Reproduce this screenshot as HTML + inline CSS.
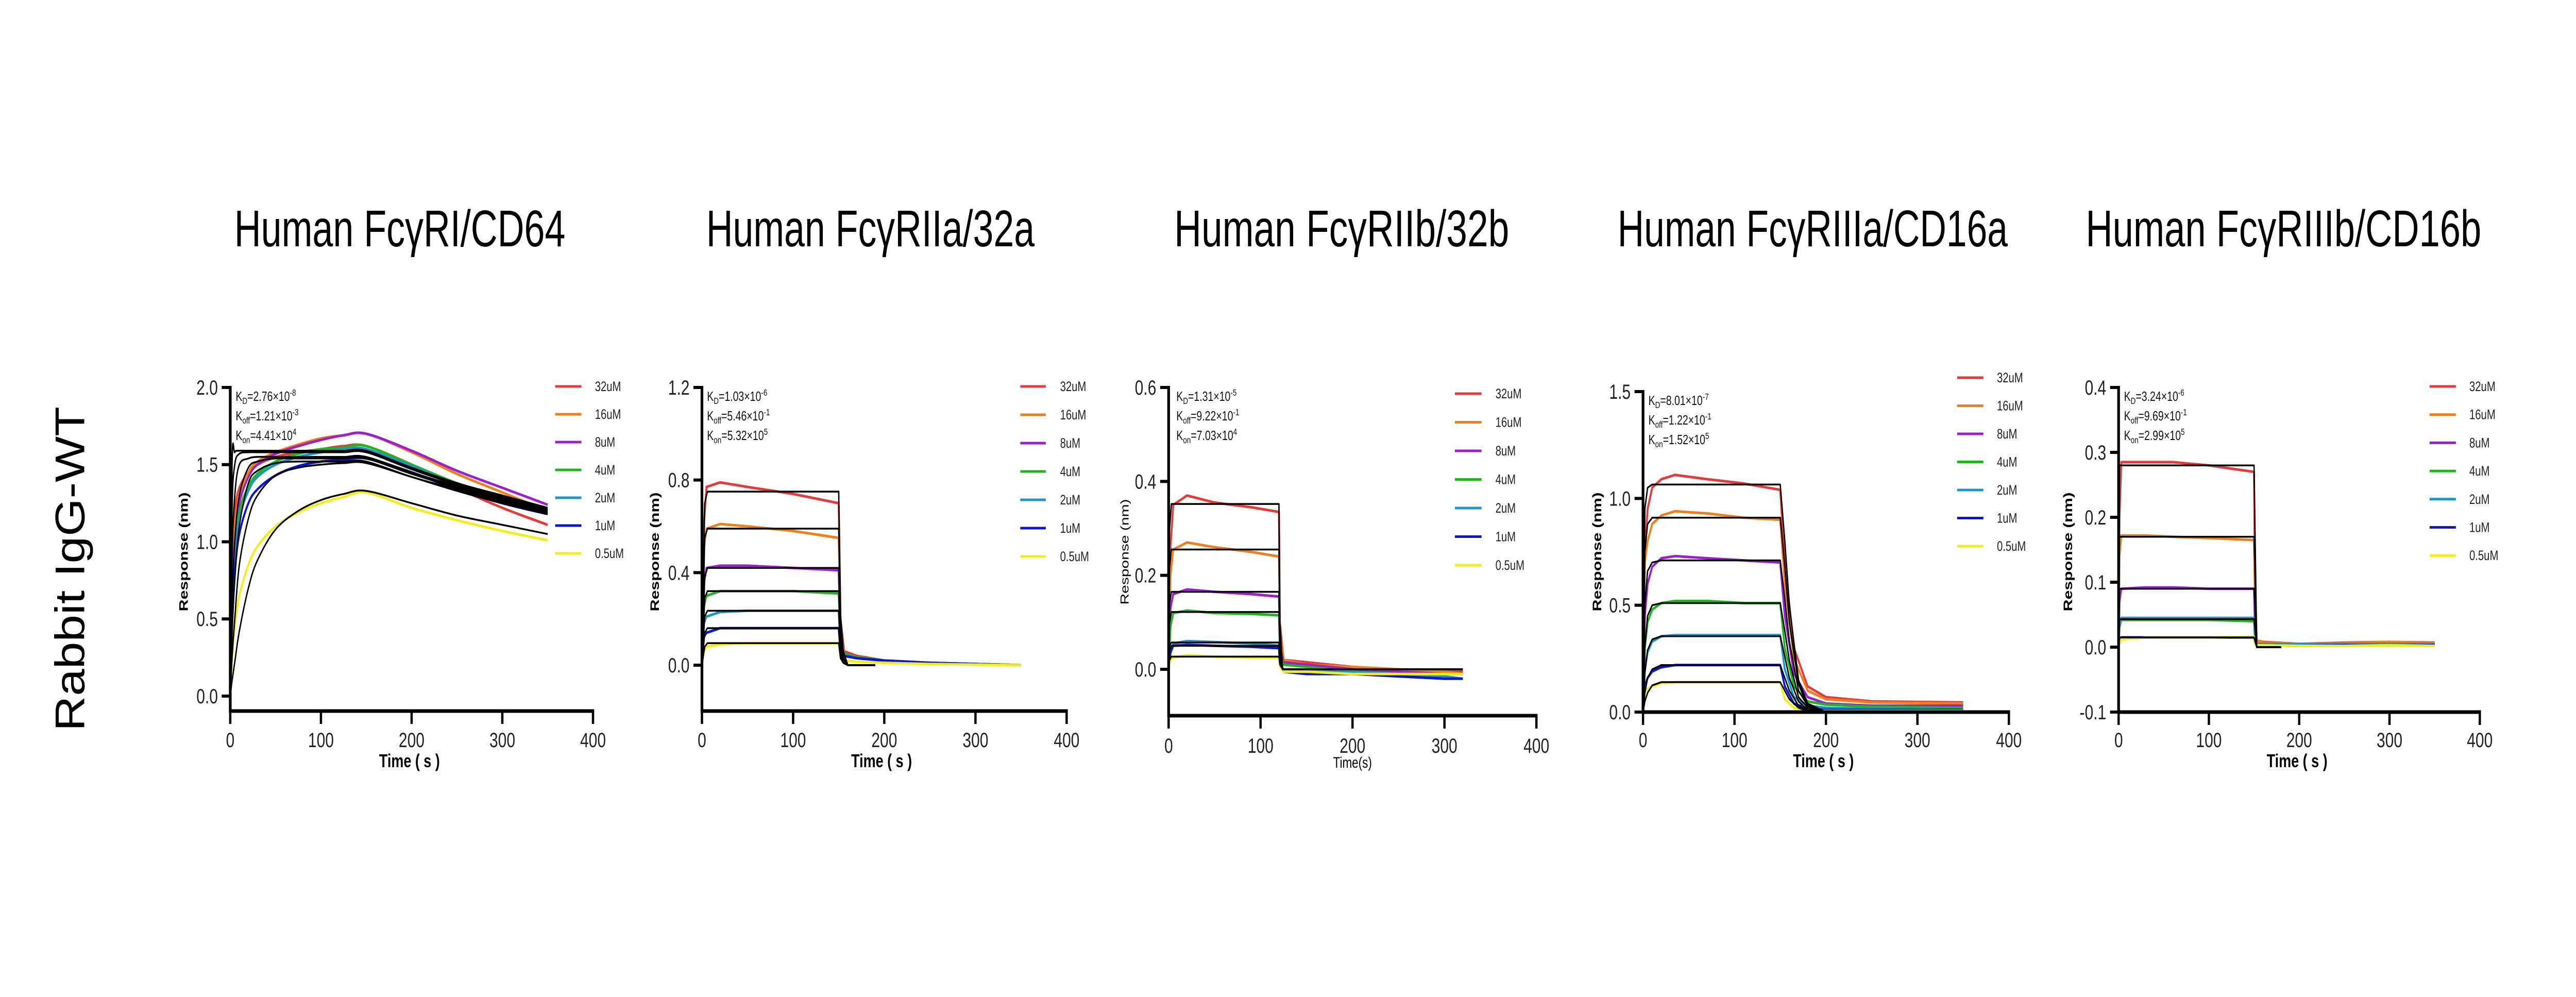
<!DOCTYPE html>
<html><head><meta charset="utf-8">
<style>
html,body{margin:0;padding:0;background:#fff;width:100%;height:100%;overflow:hidden;}
svg{display:block;width:100vw;height:100vh;}
.t{font-family:"Liberation Sans",sans-serif;}
.n{font-family:"Liberation Sans Narrow","Liberation Sans",sans-serif;}
</style></head>
<body>
<svg id="chart" viewBox="0 0 6668 1935" preserveAspectRatio="none" xmlns="http://www.w3.org/2000/svg">
<rect width="6668" height="1935" fill="#fff"/>
<text class="t" x="0" y="0" font-size="108" transform="translate(218,1104) rotate(-90)" text-anchor="middle" textLength="630" lengthAdjust="spacingAndGlyphs">Rabbit IgG-WT</text>
</svg>
<script>
// ---------- data ----------
const seriesNames = ["32uM","16uM","8uM","4uM","2uM","1uM","0.5uM"];
const seriesColors = ["#e8393a","#f07f1a","#9b1fd0","#1fb51f","#1a96c8","#0a14d4","#f2ee1a"];
const titles = ["Human FcγRI/CD64","Human FcγRIIa/32a","Human FcγRIIb/32b","Human FcγRIIIa/CD16a","Human FcγRIIIb/CD16b"];
const kineticsText = [
 ["2.76×10","-8","1.21×10","-3","4.41×10","4"],
 ["1.03×10","-6","5.46×10","-1","5.32×10","5"],
 ["1.31×10","-5","9.22×10","-1","7.03×10","4"],
 ["8.01×10","-7","1.22×10","-1","1.52×10","5"],
 ["3.24×10","-6","9.69×10","-1","2.99×10","5"]];
const xTicks = [0,100,200,300,400];
const yTicks1 = [0,0.5,1.0,1.5,2.0];
const yTicks2 = [0,0.4,0.8,1.2];
const yTicks3 = [0,0.2,0.4,0.6];
const yTicks4 = [0,0.5,1.0,1.5];
const yTicks5 = [-0.1,0,0.1,0.2,0.3,0.4];
const yTickLabels1 = ["0.0","0.5","1.0","1.5","2.0"];
const yTickLabels2 = ["0.0","0.4","0.8","1.2"];
const yTickLabels3 = ["0.0","0.2","0.4","0.6"];
const yTickLabels4 = ["0.0","0.5","1.0","1.5"];
const yTickLabels5 = ["-0.1","0.0","0.1","0.2","0.3","0.4"];

// Panel 1
const p1Times = [0,2,5,10,20,30,50,75,100,125,150,200,250,300,350];
const p1Data = [
 [0,0.9,1.2,1.35,1.45,1.5,1.55,1.58,1.60,1.62,1.62,1.50,1.35,1.22,1.11],
 [0,0.8,1.1,1.3,1.45,1.52,1.58,1.63,1.67,1.69,1.70,1.58,1.44,1.32,1.20],
 [0,0.7,1.0,1.25,1.42,1.5,1.57,1.62,1.66,1.69,1.70,1.59,1.46,1.35,1.24],
 [0,0.6,0.95,1.2,1.36,1.44,1.52,1.57,1.60,1.61,1.62,1.50,1.38,1.29,1.20],
 [0,0.6,0.9,1.15,1.33,1.42,1.50,1.55,1.58,1.60,1.60,1.49,1.37,1.28,1.21],
 [0,0.5,0.8,1.05,1.25,1.34,1.43,1.49,1.52,1.53,1.54,1.45,1.34,1.25,1.18],
 [0,0.25,0.45,0.65,0.85,0.97,1.10,1.19,1.25,1.29,1.32,1.22,1.14,1.07,1.01]];
const p1FitTimes = p1Times;
const p1Fit = [
 [0,1.5,1.58,1.59,1.59,1.59,1.59,1.59,1.59,1.59,1.59,1.48,1.38,1.30,1.22],
 [0,1.2,1.5,1.57,1.58,1.58,1.58,1.58,1.58,1.58,1.58,1.47,1.37,1.29,1.22],
 [0,0.9,1.3,1.5,1.54,1.55,1.55,1.55,1.55,1.55,1.55,1.45,1.36,1.28,1.21],
 [0,0.6,1.0,1.3,1.48,1.52,1.54,1.54,1.54,1.54,1.54,1.44,1.35,1.27,1.20],
 [0,0.4,0.75,1.1,1.38,1.46,1.51,1.52,1.52,1.52,1.52,1.42,1.34,1.26,1.19],
 [0,0.25,0.5,0.85,1.15,1.3,1.43,1.48,1.50,1.51,1.51,1.42,1.33,1.25,1.18],
 [0,0.1,0.22,0.42,0.70,0.88,1.08,1.20,1.27,1.31,1.33,1.25,1.17,1.11,1.05]];

// Panel 2
const p2Times = [0,2,5,20,50,100,150,152,156,170,200,250,350];
const p2Data = [
 [0,0.60,0.77,0.79,0.77,0.74,0.70,0.20,0.06,0.04,0.02,0.01,0.00],
 [0,0.50,0.59,0.61,0.60,0.58,0.55,0.15,0.05,0.035,0.02,0.01,0.00],
 [0,0.35,0.42,0.43,0.43,0.42,0.41,0.10,0.05,0.035,0.02,0.01,0.00],
 [0,0.25,0.30,0.32,0.32,0.32,0.31,0.08,0.05,0.035,0.02,0.01,0.00],
 [0,0.18,0.21,0.23,0.235,0.235,0.235,0.06,0.045,0.03,0.02,0.01,0.00],
 [0,0.12,0.14,0.16,0.16,0.16,0.16,0.05,0.04,0.03,0.02,0.01,0.00],
 [0,0.06,0.08,0.09,0.095,0.095,0.095,0.03,0.02,0.015,0.01,0.005,0.00]];
const p2FitTimes = [0,3,6,150,152,155,160,190];
const p2Fit = [
 [0,0.70,0.75,0.75,0.22,0.06,0.0,0.0],
 [0,0.55,0.59,0.59,0.18,0.05,0.0,0.0],
 [0,0.38,0.42,0.42,0.13,0.03,0.0,0.0],
 [0,0.29,0.32,0.32,0.10,0.03,0.0,0.0],
 [0,0.21,0.235,0.235,0.07,0.02,0.0,0.0],
 [0,0.14,0.16,0.16,0.05,0.01,0.0,0.0],
 [0,0.08,0.095,0.095,0.03,0.01,0.0,0.0]];

// Panel 3
const p3Times = [0,2,5,20,50,90,120,121,125,150,200,250,300,320];
const p3Data = [
 [0,0.26,0.35,0.37,0.355,0.345,0.335,0.10,0.02,0.015,0.005,0.00,-0.005,-0.005],
 [0,0.20,0.255,0.27,0.26,0.25,0.24,0.08,0.02,0.01,0.005,0.0,-0.005,-0.01],
 [0,0.13,0.16,0.17,0.165,0.16,0.155,0.05,0.015,0.01,0.0,-0.005,-0.01,-0.01],
 [0,0.09,0.12,0.125,0.12,0.118,0.115,0.04,0.01,0.005,-0.005,-0.01,-0.01,-0.01],
 [0,0.04,0.055,0.06,0.058,0.055,0.05,0.01,0.0,-0.005,-0.005,-0.01,-0.015,-0.02],
 [0,0.035,0.05,0.052,0.05,0.048,0.045,0.01,-0.005,-0.01,-0.01,-0.015,-0.02,-0.02],
 [0,0.02,0.025,0.03,0.027,0.025,0.025,0.005,-0.005,-0.005,-0.01,-0.01,-0.01,-0.01]];
const p3FitTimes = [0,1,3,120,121,124,320];
const p3Fit = [
 [0,0.30,0.352,0.352,0.10,0.0,0.0],
 [0,0.22,0.255,0.255,0.08,0.0,0.0],
 [0,0.14,0.165,0.165,0.05,0.0,0.0],
 [0,0.10,0.122,0.122,0.04,0.0,0.0],
 [0,0.05,0.057,0.057,0.02,0.0,0.0],
 [0,0.04,0.05,0.05,0.015,0.0,0.0],
 [0,0.02,0.027,0.027,0.01,0.0,0.0]];

// Panel 4
const p4Times = [0,2,5,10,20,35,70,110,150,155,165,180,200,250,350];
const p4Data = [
 [0,0.75,0.95,1.05,1.09,1.11,1.09,1.07,1.04,0.7,0.3,0.12,0.07,0.05,0.045],
 [0,0.7,0.80,0.88,0.92,0.94,0.93,0.91,0.90,0.6,0.25,0.10,0.06,0.045,0.04],
 [0,0.45,0.60,0.68,0.72,0.73,0.72,0.71,0.70,0.45,0.18,0.07,0.04,0.03,0.03],
 [0,0.3,0.42,0.48,0.51,0.52,0.52,0.51,0.51,0.30,0.12,0.05,0.035,0.025,0.02],
 [0,0.2,0.28,0.33,0.355,0.36,0.36,0.36,0.36,0.20,0.07,0.03,0.02,0.015,0.01],
 [0,0.12,0.16,0.19,0.21,0.22,0.22,0.22,0.22,0.12,0.04,0.015,0.01,0.01,0.01],
 [0,0.09,0.11,0.12,0.135,0.14,0.14,0.14,0.14,0.06,0.02,0.01,0.005,0.005,0.005]];
const p4FitTimes = [0,2,5,10,20,150,155,160,170,180,200];
const p4Fit = [
 [0,0.95,1.05,1.065,1.065,1.065,0.8,0.5,0.15,0.04,0.0],
 [0,0.75,0.88,0.91,0.91,0.91,0.68,0.42,0.13,0.03,0.0],
 [0,0.50,0.66,0.70,0.71,0.71,0.53,0.33,0.10,0.03,0.0],
 [0,0.30,0.45,0.50,0.51,0.51,0.38,0.24,0.07,0.02,0.0],
 [0,0.18,0.29,0.34,0.355,0.355,0.26,0.16,0.05,0.01,0.0],
 [0,0.09,0.16,0.20,0.22,0.22,0.16,0.10,0.03,0.01,0.0],
 [0,0.05,0.09,0.125,0.14,0.14,0.10,0.06,0.02,0.005,0.0]];

// Panel 5
const p5Times = [0,1,3,30,60,100,150,151,153,160,200,250,300,350];
const p5Data = [
 [0,0.2,0.285,0.285,0.285,0.28,0.27,0.1,0.01,0.008,0.005,0.007,0.008,0.007],
 [0,0.14,0.172,0.172,0.17,0.168,0.165,0.06,0.01,0.007,0.005,0.006,0.008,0.006],
 [0,0.07,0.09,0.092,0.092,0.09,0.09,0.03,0.005,0.005,0.003,0.004,0.005,0.004],
 [0,0.03,0.042,0.042,0.042,0.042,0.04,0.01,0.003,0.004,0.004,0.004,0.005,0.004],
 [0,0.03,0.045,0.045,0.045,0.045,0.045,0.01,0.005,0.005,0.005,0.005,0.005,0.005],
 [0,0.01,0.015,0.015,0.015,0.015,0.015,0.005,0.003,0.003,0.002,0.003,0.003,0.003],
 [0,0.005,0.012,0.015,0.015,0.015,0.016,0.005,0.003,0.003,0.002,0.002,0.003,0.002]];
const p5FitTimes = [0,1,150,153,180];
const p5Fit = [
 [0,0.28,0.28,0.0,0.0],
 [0,0.17,0.17,0.0,0.0],
 [0,0.09,0.09,0.0,0.0],
 [0,0.043,0.043,0.0,0.0],
 [0,0.043,0.043,0.0,0.0],
 [0,0.015,0.015,0.0,0.0],
 [0,0.015,0.015,0.0,0.0]];

// ---------- layout ----------
const panels = [
 {x0:596,x1:1535,yTop:752,yBot:1380,vTop:2.0,vZero:1351,yTicks:yTicks1,yLab:yTickLabels1,times:p1Times,data:p1Data,fT:p1FitTimes,fit:p1Fit,
  tx:1035,tw:857,lx1:1437,lx2:1505,ltx:1540,ly:750,ldy:54,kx:610,rx:475,timeX:1060,boldAx:true,xlabY:1436,smooth:true},
 {x0:1817,x1:2761,yTop:752,yBot:1380,vTop:1.2,vZero:1291,yTicks:yTicks2,yLab:yTickLabels2,times:p2Times,data:p2Data,fT:p2FitTimes,fit:p2Fit,
  tx:2253,tw:850,lx1:2641,lx2:2707,ltx:2744,ly:750,ldy:55,kx:1830,rx:1695,timeX:2282,boldAx:true,xlabY:1436},
 {x0:3025,x1:3977,yTop:752,yBot:1389,vTop:0.6,vZero:1299,yTicks:yTicks3,yLab:yTickLabels3,times:p3Times,data:p3Data,fT:p3FitTimes,fit:p3Fit,
  tx:3473,tw:867,lx1:3766,lx2:3835,ltx:3871,ly:764,ldy:55.5,kx:3045,rx:2910,timeX:3501,boldAx:false,xlabY:1447},
 {x0:4253,x1:5200,yTop:760,yBot:1382,vTop:1.5,vZero:1382,yTicks:yTicks4,yLab:yTickLabels4,times:p4Times,data:p4Data,fT:p4FitTimes,fit:p4Fit,
  tx:4692,tw:1010,lx1:5066,lx2:5134,ltx:5169,ly:733,ldy:54.5,kx:4267,rx:4134,timeX:4720,boldAx:true,xlabY:1436},
 {x0:5484,x1:6419,yTop:752,yBot:1382,vTop:0.4,vZero:1256,yTicks:yTicks5,yLab:yTickLabels5,times:p5Times,data:p5Data,fT:p5FitTimes,fit:p5Fit,
  tx:5911,tw:1024,lx1:6289,lx2:6357,ltx:6392,ly:750,ldy:54.7,kx:5498,rx:5353,timeX:5946,boldAx:true,xlabY:1436}
];
panels[4].vZero = 752 + (1382-752)*0.4/0.5;

const NS = "http://www.w3.org/2000/svg";
const svg = document.getElementById("chart");
function mk(tag, attrs, parent, text){
  const e = document.createElementNS(NS, tag);
  for (const k in attrs) e.setAttribute(k, attrs[k]);
  if (text !== undefined) e.textContent = text;
  (parent||svg).appendChild(e);
  return e;
}
function pathD(pts, smooth){
  if (!smooth) return "M" + pts.map(p=>p[0].toFixed(1)+","+p[1].toFixed(1)).join(" L");
  let d = "M" + pts[0][0].toFixed(1) + "," + pts[0][1].toFixed(1);
  for (let i=0;i<pts.length-1;i++){
    const p0 = pts[Math.max(0,i-1)], p1 = pts[i], p2 = pts[i+1], p3 = pts[Math.min(pts.length-1,i+2)];
    const c1 = [p1[0]+(p2[0]-p0[0])/6, p1[1]+(p2[1]-p0[1])/6];
    const c2 = [p2[0]-(p3[0]-p1[0])/6, p2[1]-(p3[1]-p1[1])/6];
    d += " C"+c1[0].toFixed(1)+","+c1[1].toFixed(1)+" "+c2[0].toFixed(1)+","+c2[1].toFixed(1)+" "+p2[0].toFixed(1)+","+p2[1].toFixed(1);
  }
  return d;
}

panels.forEach((p, pi) => {
  const g = mk("g", {});
  
  
  const xs = t => p.x0 + t*(p.x1-p.x0)/400;
  const ys = v => p.vZero - v*(p.vZero-p.yTop)/p.vTop;

  const title = mk("text", {x:p.tx, y:478, "font-size":100, "text-anchor":"middle", textLength:p.tw, lengthAdjust:"spacingAndGlyphs", "class":"t"}, g, titles[pi]);
  
  

  p.data.forEach((arr, si) => {
    const pts = arr.map((v,i)=> [xs(p.times[i]), ys(v)]);
    const l = mk("path", {d:pathD(pts, p.smooth), fill:"none", stroke:seriesColors[si], "stroke-width":5, "stroke-linejoin":"round"}, g);
    
    
  });
  p.fit.forEach((arr, si) => {
    const pts = arr.map((v,i)=> [xs(p.fT[i]), ys(v)]);
    const l = mk("path", {d:pathD(pts, p.smooth), fill:"none", stroke:"#000", "stroke-width":3.5, "stroke-linejoin":"round"}, g);
    
    
  });

  const ya = mk("line", {x1:p.x0, y1:p.yTop-3, x2:p.x0, y2:p.yBot+3, stroke:"#000", "stroke-width":7}, g);
  
  
  const xa = mk("line", {x1:p.x0-3, y1:p.yBot, x2:p.x1+3, y2:p.yBot, stroke:"#000", "stroke-width":7}, g);
  
  
  p.yTicks.forEach((v,i) => {
    const y = ys(v);
    mk("line", {x1:p.x0-22, y1:y, x2:p.x0, y2:y, stroke:"#000", "stroke-width":6}, g);
    const t = mk("text", {x:p.x0-32, y:y+14, "font-size":40, "text-anchor":"end", "class":"n", fill:"#222"}, g, p.yLab[i]);
    
    
  });
  xTicks.forEach(v => {
    const x = xs(v);
    mk("line", {x1:x, y1:p.yBot, x2:x, y2:p.yBot+25, stroke:"#000", "stroke-width":6}, g);
    const t = mk("text", {x:x, y:p.xlabY+14, "font-size":40, "text-anchor":"middle", "class":"n", fill:"#222"}, g, String(v));
    
    
  });
  const tl = mk("text", {x:p.timeX, y:p.boldAx?1489:1490, "font-size":p.boldAx?36:30, "font-weight":p.boldAx?"bold":"normal", "text-anchor":"middle", "class":"t"}, g, p.boldAx?"Time ( s )":"Time(s)");
  
  
  const rl = mk("text", {x:0, y:0, "font-size":p.boldAx?32:30, "font-weight":p.boldAx?"bold":"normal", "text-anchor":"middle", "class":"t", transform:"translate("+(p.rx+11)+",1071) rotate(-90)"}, g, "Response (nm)");
  
  

  const labs = [["K","D"],["K","off"],["K","on"]];
  const kt = kineticsText[pi];
  labs.forEach((lb, li) => {
    const y = p.yTop + 26 + li*38;
    const t = mk("text", {x:p.kx, y:y, "font-size":26, "class":"n", fill:"#111"}, g);
    
    
    mk("tspan", {}, t, lb[0]);
    mk("tspan", {"font-size":18, dy:6}, t, lb[1]);
    mk("tspan", {dy:-6}, t, "=" + kt[li*2]);
    mk("tspan", {"font-size":18, dy:-10}, t, kt[li*2+1]);
  });

  seriesNames.forEach((nm, si) => {
    const y = p.ly + si*p.ldy;
    const le = mk("g", {}, g);
    
    
    mk("line", {x1:p.lx1, y1:y, x2:p.lx2, y2:y, stroke:seriesColors[si], "stroke-width":5}, le);
    mk("text", {x:p.ltx, y:y+9, "font-size":27, "class":"n", fill:"#222"}, le, nm);
  });
});
</script>
</body></html>
